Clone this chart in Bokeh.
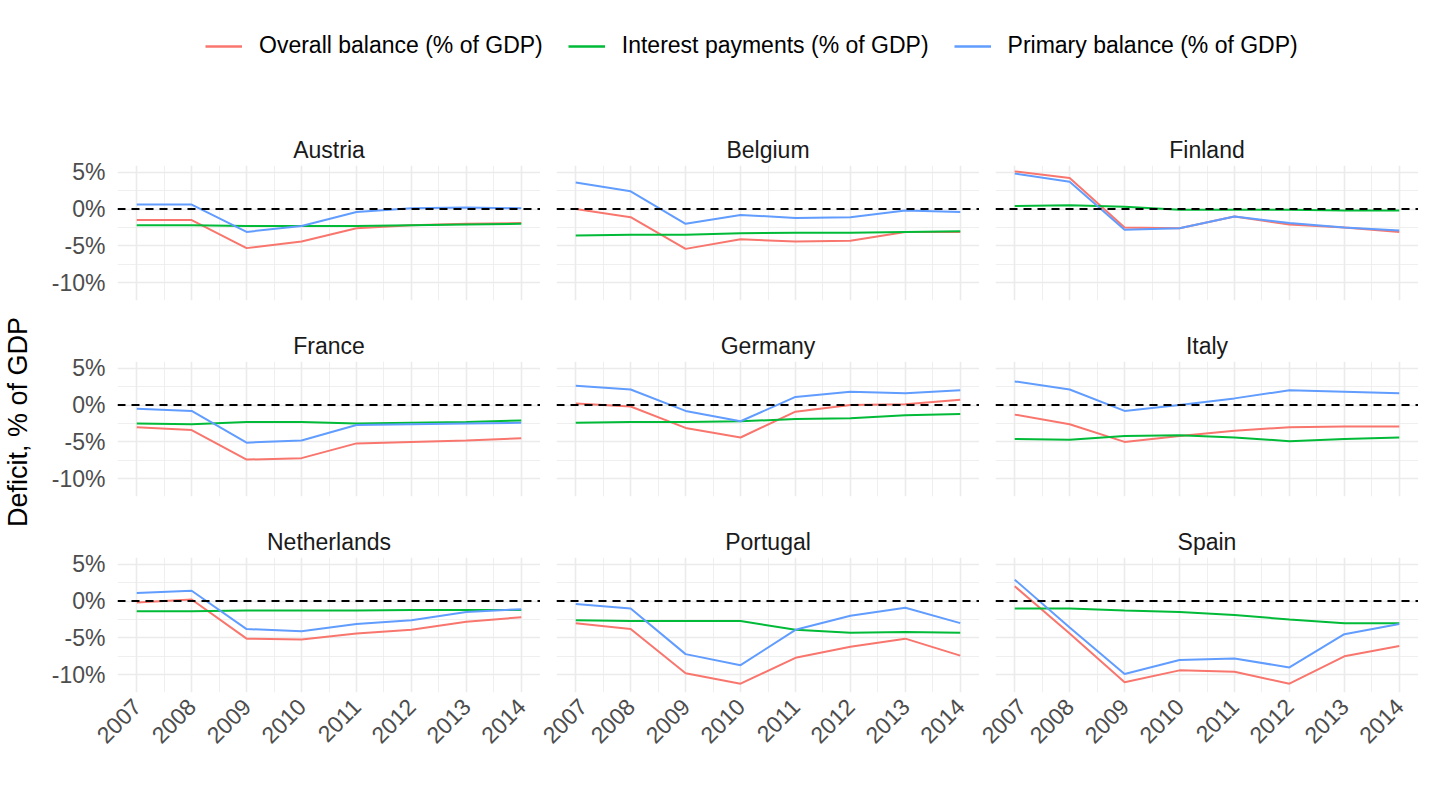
import math
from bokeh.plotting import figure
from bokeh.layouts import column, row
from bokeh.models import (Range1d, FixedTicker, PrintfTickFormatter, Span, Legend, LegendItem,
                          Title)
from bokeh.embed import file_html
from bokeh.resources import INLINE

years = [2007, 2008, 2009, 2010, 2011, 2012, 2013, 2014]
countries = ["Austria", "Belgium", "Finland", "France", "Germany", "Italy",
             "Netherlands", "Portugal", "Spain"]

overall_balance = {
    "Austria":     [-1.5, -1.5, -5.3, -4.4, -2.6, -2.2, -2.0, -1.9],
    "Belgium":     [0.0, -1.1, -5.4, -4.1, -4.4, -4.3, -3.1, -3.1],
    "Finland":     [5.1, 4.2, -2.5, -2.6, -1.0, -2.1, -2.5, -3.1],
    "France":      [-3.0, -3.4, -7.4, -7.2, -5.2, -5.0, -4.8, -4.5],
    "Germany":     [0.2, -0.2, -3.1, -4.4, -0.9, 0.0, 0.1, 0.7],
    "Italy":       [-1.3, -2.6, -5.0, -4.2, -3.5, -3.0, -2.9, -2.9],
    "Netherlands": [-0.2, 0.2, -5.1, -5.2, -4.4, -3.9, -2.8, -2.2],
    "Portugal":    [-3.0, -3.8, -9.8, -11.2, -7.7, -6.2, -5.1, -7.4],
    "Spain":       [2.0, -4.4, -11.0, -9.4, -9.6, -11.2, -7.5, -6.1],
}
interest_payments = {
    "Austria":     [-2.2, -2.2, -2.3, -2.3, -2.3, -2.2, -2.1, -2.0],
    "Belgium":     [-3.6, -3.5, -3.5, -3.3, -3.2, -3.2, -3.1, -3.0],
    "Finland":     [0.4, 0.5, 0.3, -0.1, -0.1, -0.1, -0.2, -0.2],
    "France":      [-2.5, -2.6, -2.3, -2.3, -2.5, -2.4, -2.3, -2.1],
    "Germany":     [-2.4, -2.3, -2.3, -2.2, -1.9, -1.8, -1.4, -1.2],
    "Italy":       [-4.6, -4.7, -4.2, -4.1, -4.4, -4.9, -4.6, -4.4],
    "Netherlands": [-1.4, -1.4, -1.3, -1.3, -1.3, -1.2, -1.2, -1.2],
    "Portugal":    [-2.6, -2.7, -2.7, -2.7, -3.9, -4.3, -4.2, -4.3],
    "Spain":       [-1.0, -1.0, -1.3, -1.5, -1.9, -2.5, -3.0, -3.0],
}
primary_balance = {
    "Austria":     [0.6, 0.6, -3.1, -2.3, -0.4, 0.1, 0.2, 0.1],
    "Belgium":     [3.6, 2.4, -2.0, -0.8, -1.2, -1.1, -0.2, -0.4],
    "Finland":     [4.8, 3.7, -2.8, -2.6, -1.0, -1.9, -2.5, -2.9],
    "France":      [-0.5, -0.8, -5.1, -4.8, -2.7, -2.6, -2.5, -2.4],
    "Germany":     [2.6, 2.1, -0.8, -2.2, 1.1, 1.8, 1.6, 2.0],
    "Italy":       [3.2, 2.1, -0.8, 0.0, 0.9, 2.0, 1.8, 1.6],
    "Netherlands": [1.1, 1.4, -3.8, -4.1, -3.1, -2.6, -1.5, -1.1],
    "Portugal":    [-0.4, -1.0, -7.2, -8.7, -3.9, -2.0, -0.9, -3.0],
    "Spain":       [2.9, -3.6, -9.9, -8.0, -7.8, -9.0, -4.5, -3.1],
}
series_names = ["Overall balance (% of GDP)", "Interest payments (% of GDP)",
                "Primary balance (% of GDP)"]
series_data = [overall_balance, interest_payments, primary_balance]
colors = ["#F8766D", "#00BA38", "#619CFF"]
y_ticks = [-10, -5, 0, 5]
y_minor = [-12.5, -7.5, -2.5, 2.5]
x_minor = [2006.5 + i for i in range(9)]

FONT = "Liberation Sans"
FW, FH = 423, 135
GAP = 16
YLAB_W = 45
LEFT = 117 - YLAB_W
TOP_H = 125


def make_panel(i, c):
    r, col = divmod(i, 3)
    p = figure(frame_width=FW, frame_height=FH, output_backend="svg", toolbar_location=None,
               x_range=Range1d(2006.65, 2014.35), y_range=Range1d(-12.4, 5.9),
               title=c)
    p.title.align = "center"
    p.title.text_font = FONT
    p.title.text_font_size = "23px"
    p.title.text_font_style = "normal"
    p.title.text_color = "#1a1a1a"
    p.title.standoff = 6
    p.outline_line_color = None
    p.min_border_top = 40
    p.min_border_right = 0
    p.min_border_left = LEFT if col == 0 else GAP
    p.min_border_bottom = 21 if r < 2 else 60
    xt = FixedTicker(ticks=years, minor_ticks=x_minor)
    yt = FixedTicker(ticks=y_ticks, minor_ticks=y_minor)
    p.xaxis.ticker = xt
    p.yaxis.ticker = yt
    p.xgrid.ticker = xt
    p.ygrid.ticker = yt
    for g in (p.xgrid, p.ygrid):
        g.grid_line_color = "#ebebeb"
        g.grid_line_width = 1.6
        g.minor_grid_line_color = "#ebebeb"
        g.minor_grid_line_width = 0.8
    for ax in (p.xaxis, p.yaxis):
        ax.axis_line_color = None
        ax.major_tick_line_color = None
        ax.minor_tick_line_color = None
        ax.major_label_text_font = FONT
        ax.major_label_text_font_size = "23px"
        ax.major_label_text_color = "#4d4d4d"
    p.yaxis.formatter = PrintfTickFormatter(format="%d%%")
    p.yaxis.major_label_standoff = 6
    p.xaxis.major_label_orientation = math.pi / 4
    p.xaxis.major_label_standoff = 4
    if col != 0:
        p.yaxis.visible = False
    if r != 2:
        p.xaxis.visible = False
    p.add_layout(Span(location=0, dimension="width", line_color="black",
                      line_dash="8 6", line_width=2))
    for data, colr in zip(series_data, colors):
        p.line(years, data[c], line_color=colr, line_width=2)
    return p


panels = [make_panel(i, c) for i, c in enumerate(countries)]
rows = [row(*panels[k * 3:(k + 1) * 3], spacing=0) for k in range(3)]

# y-axis title in its own narrow figure spanning all rows
rows_h = 2 * (40 + FH + 21) + (40 + FH + 60)
yl = figure(width=YLAB_W, height=rows_h, output_backend="svg", toolbar_location=None,
            x_axis_location=None, y_axis_location=None)
yl.outline_line_color = None
yl.xgrid.visible = False
yl.ygrid.visible = False
yl.min_border = 0
yl.min_border_bottom = 34
yl.add_layout(Title(text="Deficit, % of GDP", align="center", text_font=FONT,
                    text_font_size="27px", text_font_style="normal",
                    text_color="#000000", standoff=0), "left")

# legend figure
lg = figure(width=117 + 3 * FW + 2 * GAP, height=TOP_H, output_backend="svg",
            toolbar_location=None, x_axis_location=None, y_axis_location=None,
            x_range=Range1d(0, 1), y_range=Range1d(0, 1))
lg.outline_line_color = None
lg.xgrid.visible = False
lg.ygrid.visible = False
lg.min_border = 0
items = []
for name, colr in zip(series_names, colors):
    rr = lg.line(x=[float("nan")], y=[float("nan")], line_color=colr, line_width=2.5)
    items.append(LegendItem(label=name, renderers=[rr]))
leg = Legend(items=items, orientation="horizontal", location=(205, 66),
             label_text_font=FONT, label_text_font_size="23px", label_text_color="#000000",
             glyph_width=37, glyph_height=20, label_standoff=17, spacing=25,
             padding=0, margin=0, border_line_color=None, background_fill_alpha=0)
lg.add_layout(leg, "center")

layout = column(lg, row(yl, column(*rows, spacing=0), spacing=0), spacing=0)
open("out.html", "w").write(file_html(layout, INLINE))
